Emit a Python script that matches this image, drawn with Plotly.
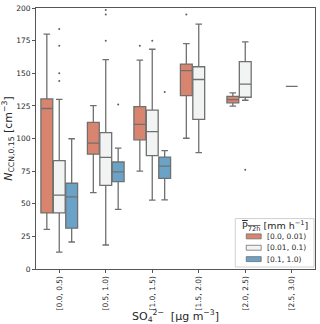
import plotly.graph_objects as go

# SO4 bins on the x axis
categories = ["[0.0, 0.5)", "[0.5, 1.0)", "[1.0, 1.5)", "[1.5, 2.0)", "[2.0, 2.5)", "[2.5, 3.0)"]
hue_labels = ["[0.0, 0.01)", "[0.01, 0.1)", "[0.1, 1.0)"]

# precipitation [0.0, 0.01)
red_cat = [0, 1, 2, 3, 4]
red_q1 = [43, 88, 99, 132.8, 127.3]
red_med = [123, 96.5, 110.9, 152, 129.8]
red_q3 = [130.3, 112.4, 124.5, 157, 132.3]
red_lo = [30.3, 58.6, 75, 100.2, 124.8]
red_hi = [180, 125.2, 160.1, 172.7, 135]
red_out_cat = [2, 3]
red_out = [171, 195]

# precipitation [0.01, 0.1)
white_cat = [0, 1, 2, 3, 4, 5]
white_q1 = [43, 64.1, 86.9, 114.6, 131.6, 140]
white_med = [56.6, 85.6, 105.3, 145.2, 141.7, 140]
white_q3 = [83.1, 104.5, 121.7, 155, 158.9, 140]
white_lo = [13, 18.4, 52.8, 89.1, 129.3, 140]
white_hi = [130, 160.4, 168.4, 187.6, 174, 140]
white_out_cat = [0, 0, 0, 0, 1, 1, 1, 2, 4]
white_out = [184, 171, 150, 144, 198.5, 195, 175, 175, 76]

# precipitation [0.1, 1.0)
blue_cat = [0, 1, 2]
blue_q1 = [31.3, 66.9, 69.5]
blue_med = [55.3, 74.5, 78.8]
blue_q3 = [65.7, 82, 85.8]
blue_lo = [20.7, 45.7, 53]
blue_hi = [99.8, 92.7, 90.7]
blue_out_cat = [1, 2]
blue_out = [126, 135.6]

colors = ["#d9846f", "#f2f3f3", "#6ba2c8"]
line_color = "#707070"
offsets = [-0.267, 0.0, 0.267]

groups = [
    (red_cat, red_q1, red_med, red_q3, red_lo, red_hi, red_out_cat, red_out),
    (white_cat, white_q1, white_med, white_q3, white_lo, white_hi, white_out_cat, white_out),
    (blue_cat, blue_q1, blue_med, blue_q3, blue_lo, blue_hi, blue_out_cat, blue_out),
]

W, H = 320, 324
L, R, T, B = 36, 4, 5, 55
PW, PH = W - L - R, H - T - B


def px(x):
    return (x - L) / PW


def py(y):
    return (H - B - y) / PH


fig = go.Figure()

for i, (cat, q1, med, q3, lo, hi, ocat, oval) in enumerate(groups):
    fig.add_trace(go.Box(
        x=[c + offsets[i] for c in cat],
        q1=q1, median=med, q3=q3, lowerfence=lo, upperfence=hi,
        width=0.255,
        whiskerwidth=0.55,
        fillcolor=colors[i],
        line=dict(color=line_color, width=1.3),
        name=hue_labels[i],
        boxpoints=False,
        showlegend=False,
    ))
    fig.add_trace(go.Scatter(
        x=[c + offsets[i] for c in ocat],
        y=oval,
        mode="markers",
        marker=dict(color="#606060", size=2),
        showlegend=False,
        hoverinfo="y",
    ))

# hand-drawn legend, matplotlib style
shapes = [dict(
    type="rect", xref="paper", yref="paper",
    x0=px(236), x1=px(315), y0=py(267), y1=py(218),
    line=dict(color="#d0d0d0", width=1), fillcolor="rgba(255,255,255,0.85)", layer="above",
)]
annotations = [dict(
    xref="paper", yref="paper", x=px(276), y=py(226),
    text="<span style='text-decoration:overline'>P<sub>72h</sub></span> [mm h<sup>−1</sup>]",
    showarrow=False, font=dict(size=9.5), xanchor="center", yanchor="middle",
)]
for i, lab in enumerate(hue_labels):
    yc = 236 + i * 11.5
    shapes.append(dict(
        type="rect", xref="paper", yref="paper",
        x0=px(247), x1=px(262), y0=py(yc + 2.5), y1=py(yc - 2.5),
        line=dict(color=line_color, width=0.8), fillcolor=colors[i], layer="above",
    ))
    annotations.append(dict(
        xref="paper", yref="paper", x=px(266), y=py(yc),
        text=lab, showarrow=False, font=dict(size=7.5),
        xanchor="left", yanchor="middle",
    ))

fig.update_layout(
    width=W,
    height=H,
    margin=dict(l=L, r=R, t=T, b=B),
    plot_bgcolor="white",
    paper_bgcolor="white",
    font=dict(family="DejaVu Sans", color="#262626"),
    showlegend=False,
    shapes=shapes,
    annotations=annotations,
    xaxis=dict(
        range=[-0.5, 5.5],
        tickmode="array",
        tickvals=list(range(len(categories))),
        ticktext=categories,
        tickangle=-90,
        tickfont=dict(size=7.5),
        ticks="outside", ticklen=3, tickcolor="#555555",
        showline=True, linecolor="#555555", linewidth=1, mirror=True,
        showgrid=False, zeroline=False,
        title=dict(text="SO<sub>4</sub><sup>2−</sup>  [μg m<sup>−3</sup>]", font=dict(size=11), standoff=0),
    ),
    yaxis=dict(
        range=[0, 200],
        tickvals=[0, 25, 50, 75, 100, 125, 150, 175, 200],
        tickfont=dict(size=7.5),
        ticks="outside", ticklen=3, tickcolor="#555555",
        showline=True, linecolor="#555555", linewidth=1, mirror=True,
        showgrid=False, zeroline=False,
        title=dict(text="<i>N</i><sub>CCN,0.15</sub> [cm<sup>−3</sup>]", font=dict(size=11), standoff=2),
    ),
)

fig.write_html(
    "out.html",
    config={"displayModeBar": False},
    post_script="document.body.style.margin='0';",
)
